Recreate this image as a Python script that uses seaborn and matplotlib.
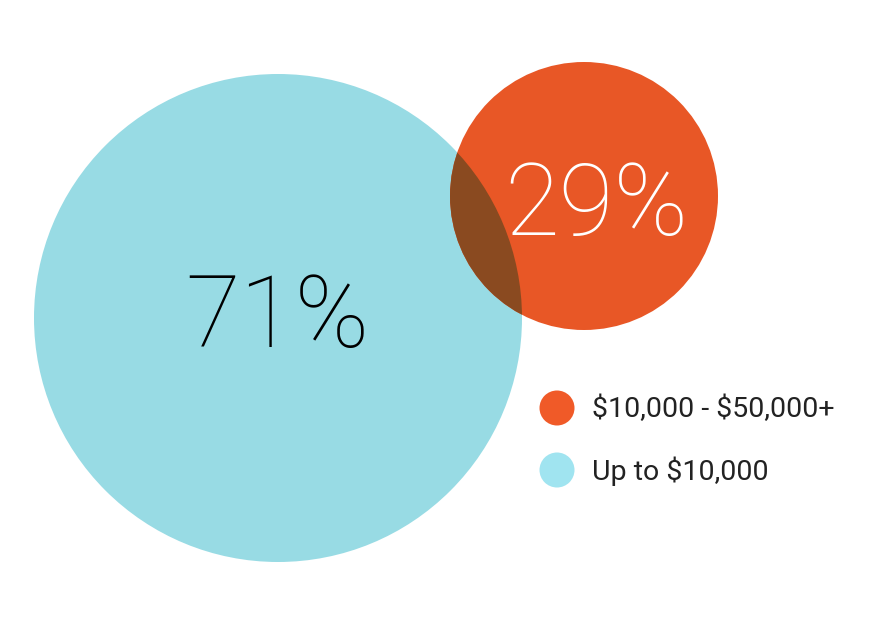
import matplotlib.pyplot as plt
import seaborn as sns
from matplotlib.patches import Circle

# data
labels = ["\\$10,000 - \\$50,000+", "Up to \\$10,000"]
shares = [29, 71]
colors = ["#E85726", "#98DBE4"]
legend_colors = ["#F05A28", "#A0E4F0"]
overlap_color = "#8A4A20"

# layout (pixels, y down)
centers = [(584, 196), (278, 318)]
radii = [134, 244]
text_pos = [(596, 208), (277, 319)]
text_colors = ["white", "black"]

sns.set_theme(style="white")
plt.rcParams["font.family"] = ["Roboto", "DejaVu Sans"]

fig = plt.figure(figsize=(8.75, 6.25), dpi=100)
ax = fig.add_axes([0, 0, 1, 1])
ax.set_xlim(0, 875)
ax.set_ylim(625, 0)
ax.set_aspect("equal")
ax.axis("off")

big = Circle(centers[1], radii[1], color=colors[1], lw=0)
small = Circle(centers[0], radii[0], color=colors[0], lw=0)
ax.add_patch(big)
ax.add_patch(small)

# darker overlap where the two circles meet
overlap = Circle(centers[0], radii[0], color=overlap_color, lw=0)
ax.add_patch(overlap)
overlap.set_clip_path(big)

for share, (x, y), tc in zip(shares, text_pos, text_colors):
    ax.text(x, y, f"{share}%", color=tc, fontsize=72, fontweight=100,
            ha="center", va="center")

for i, (label, c) in enumerate(zip(labels, legend_colors)):
    y = 408 + i * 62
    ax.add_patch(Circle((557, y), 17.5, color=c, lw=0))
    ax.text(592, y + 1, label, fontsize=20.5, fontweight="normal",
            color="#222222", ha="left", va="center")

plt.savefig("out.png", dpi=100)
plt.close()
